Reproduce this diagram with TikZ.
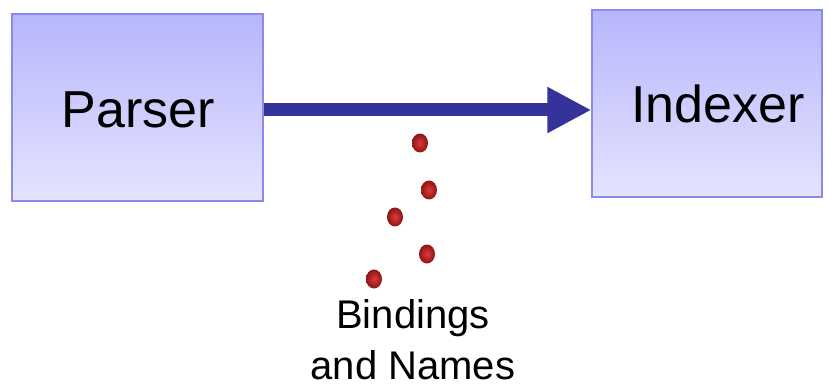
\documentclass[tikz,border=0pt]{standalone}
\usepackage{fontspec}
\setmainfont{Liberation Sans}
\usetikzlibrary{arrows.meta,shadings,shapes.geometric}
\definecolor{boxtop}{HTML}{B6B6FC}
\definecolor{boxbot}{HTML}{E6E3FE}
\definecolor{boxedge}{HTML}{8A8AEE}
\definecolor{flow}{HTML}{333399}
\definecolor{beadlight}{HTML}{DC3A3C}
\definecolor{beaddark}{HTML}{8E1414}
\tikzset{
  x=1pt, y=-1pt,
  stage/.style={draw=boxedge, line width=1.2pt, top color=boxtop, bottom color=boxbot,
    minimum height=187pt, inner sep=0pt},
  stagetext/.style={anchor=base, inner sep=0pt, font=\fontsize{52}{60}\selectfont},
  bead/.style={ellipse, minimum width=16pt, minimum height=19pt, inner sep=0pt,
    inner color=beadlight, outer color=beaddark, draw=none},
  labeltext/.style={anchor=base, inner sep=0pt, font=\fontsize{40}{52}\selectfont}
}
\begin{document}
\begin{tikzpicture}
\useasboundingbox (0,0) rectangle (828,385);
% processing stages
\node[stage, minimum width=251pt] (parser) at (137.5,107.5) {};
\node[stage, minimum width=230pt] (indexer) at (707,103.5) {};
\node[stagetext] (parsertext) at (138,128) {Parser};
\node[stagetext] (indexertext) at (718,123) {Indexer};
% data flow
\draw[flow, line width=13pt, -{Triangle[length=44pt, width=43pt]}]
  (parser.east |- 0,110) -- (indexer.west |- 0,110);
\node[bead] (b1) at (420,143) {};
\node[bead] (b2) at (429,190) {};
\node[bead] (b3) at (395,217) {};
\node[bead] (b4) at (427,254) {};
\node[bead] (b5) at (374,279) {};
\node[labeltext] (names1) at (413,328) {Bindings};
\node[labeltext] (names2) at (413,379) {and Names};
\end{tikzpicture}
\end{document}
